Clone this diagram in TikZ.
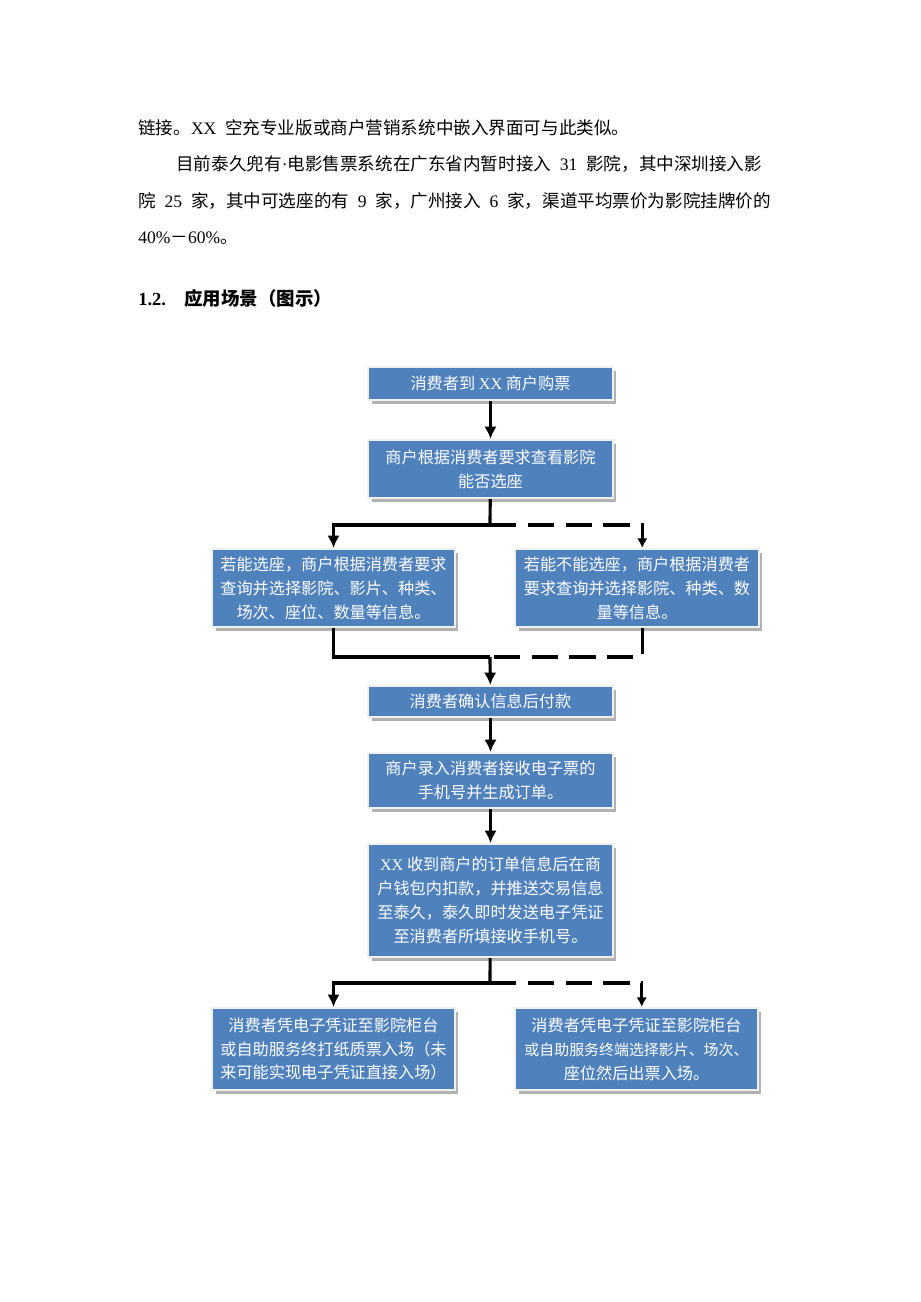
\documentclass[tikz,border=0pt]{standalone}
\usepackage{fontspec}
\usepackage{tikz}
\usetikzlibrary{arrows.meta,shadows}
\setmainfont{Liberation Serif}
\newfontfamily\cjk{Noto Sans CJK SC}
\newfontfamily\latn{Liberation Serif}
\definecolor{flowblue}{RGB}{79,129,189}
\newcommand{\gap}{\hspace{0.5em}}

\begin{document}
\begin{tikzpicture}[x=0.02cm, y=-0.02cm,
	box/.style={draw=gray!12, line width=1.2pt, fill=flowblue, text=white, align=center, inner sep=0pt,
		font=\cjk\fontsize{9.2}{13.6}\selectfont,
		drop shadow={shadow xshift=2pt, shadow yshift=-2pt, fill=gray!60, opacity=1}},
	body/.style={anchor=west, inner sep=0pt, font=\cjk\fontsize{10}{12}\selectfont},
	link/.style={line width=1.8pt},
	flow/.style={link, ->, >={Latex[length=7pt,width=7pt]}},
	dashlink/.style={link, dash pattern=on 15pt off 6.5pt},
	dashflow/.style={dashlink, ->, >={Latex[length=5.5pt,width=6pt]}}]
	\useasboundingbox (0,0) rectangle (920,1302);
	% page text
	\node[body] (line1) at (138,128) {链接。{\latn XX}\gap 空充专业版或商户营销系统中嵌入界面可与此类似。};
	\node[body] (line2) at (176,164) {目前泰久兜有{\latn ·}电影售票系统在广东省内暂时接入\gap{\latn 31}\gap 影院，其中深圳接入影};
	\node[body] (line3) at (138,201) {院\gap{\latn 25}\gap 家，其中可选座的有\gap{\latn 9}\gap 家，广州接入\gap{\latn 6}\gap 家，渠道平均票价为影院挂牌价的};
	\node[body] (line4) at (138,238) {{\latn 40\%}－{\latn 60\%}。};
	\node[body, font=\cjk\bfseries\fontsize{10.5}{12}\selectfont] (heading) at (138,298) {{\latn\bfseries 1.2.}\hspace{1em}应用场景（图示）};
	% flow boxes
	\node[box, minimum width=4.9cm, minimum height=0.66cm] (buy) at (490.5,383.5) {消费者到 {\latn XX} 商户购票};
	\node[box, minimum width=4.9cm, minimum height=1.16cm] (check) at (490.5,469) {商户根据消费者要求查看影院\\能否选座};
	\node[box, minimum width=4.86cm, minimum height=1.56cm] (seat) at (333.5,588) {若能选座，商户根据消费者要求\\查询并选择影院、影片、种类、\\场次、座位、数量等信息。};
	\node[box, minimum width=4.88cm, minimum height=1.56cm] (noseat) at (637,588) {若能不能选座，商户根据消费者\\要求查询并选择影院、种类、数\\量等信息。};
	\node[box, minimum width=4.9cm, minimum height=0.62cm] (pay) at (490.5,701.5) {消费者确认信息后付款};
	\node[box, minimum width=4.9cm, minimum height=1.1cm] (phone) at (490.5,780.5) {商户录入消费者接收电子票的\\手机号并生成订单。};
	\node[box, minimum width=4.9cm, minimum height=2.26cm] (deduct) at (490.5,900.5) {{\latn XX} 收到商户的订单信息后在商\\户钱包内扣款，并推送交易信息\\至泰久，泰久即时发送电子凭证\\至消费者所填接收手机号。};
	\node[box, minimum width=4.86cm, minimum height=1.64cm] (paper) at (333.5,1049) {消费者凭电子凭证至影院柜台\\或自助服务终打纸质票入场（未\\来可能实现电子凭证直接入场）};
	\node[box, minimum width=4.86cm, minimum height=1.64cm] (kiosk) at (636.5,1049) {消费者凭电子凭证至影院柜台\\{\fontsize{8.5}{13.6}\selectfont 或自助服务终端选择影片、场次、}\\座位然后出票入场。};
	\coordinate (split1) at (490,525);
	\coordinate (join) at (490,657);
	\coordinate (split2) at (490,983);
	% connectors
	\draw[flow] (buy) -- (check);
	\draw[link] (check) -- (split1);
	\draw[flow] (split1) -| (seat);
	\draw[dashflow] (split1) -| ([xshift=3pt]noseat.north);
	\draw[link] (seat) |- (join);
	\draw[dashlink] ([xshift=3pt]noseat.south) |- (join);
	\draw[flow] (join) -- (pay);
	\draw[flow] (pay) -- (phone);
	\draw[flow] (phone) -- (deduct);
	\draw[link] (deduct) -- (split2);
	\draw[flow] (split2) -| (paper);
	\draw[dashflow] (split2) -| ([xshift=3pt]kiosk.north);
\end{tikzpicture}
\end{document}
